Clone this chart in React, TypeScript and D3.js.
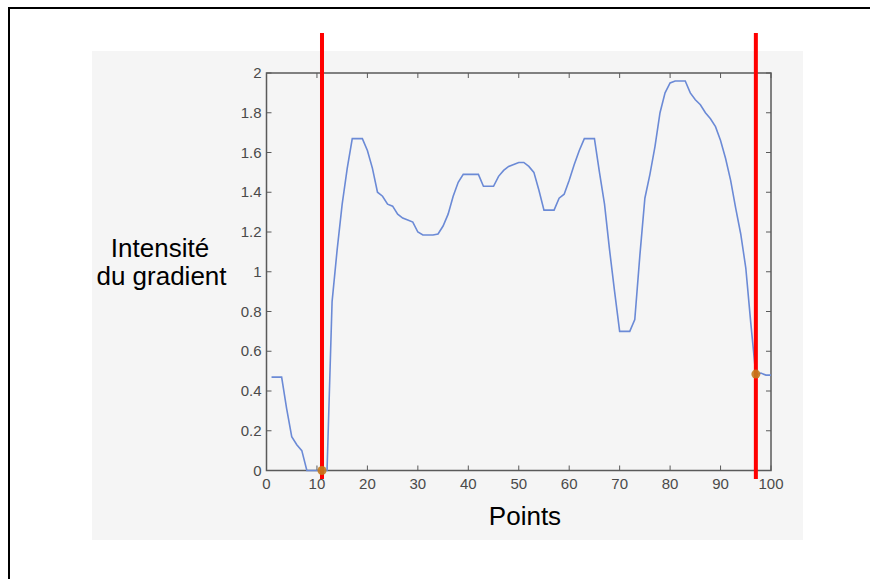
import * as d3 from 'd3';
import { useEffect, useRef } from 'react';

// intensité du gradient, points 1..100
const gradient = [
  0.47, 0.47, 0.47, 0.31, 0.17, 0.13, 0.10, 0.00, 0.00, 0.00,
  0.00, 0.00, 0.85, 1.11, 1.34, 1.52, 1.67, 1.67, 1.67, 1.61,
  1.52, 1.40, 1.38, 1.34, 1.33, 1.29, 1.27, 1.26, 1.25, 1.20,
  1.185, 1.185, 1.185, 1.19, 1.23, 1.29, 1.38, 1.45, 1.49, 1.49,
  1.49, 1.49, 1.43, 1.43, 1.43, 1.48, 1.51, 1.53, 1.54, 1.55,
  1.55, 1.53, 1.50, 1.41, 1.31, 1.31, 1.31, 1.37, 1.39, 1.46,
  1.54, 1.61, 1.67, 1.67, 1.67, 1.50, 1.34, 1.11, 0.90, 0.70,
  0.70, 0.70, 0.76, 1.08, 1.37, 1.49, 1.63, 1.80, 1.90, 1.95,
  1.96, 1.96, 1.96, 1.90, 1.865, 1.84, 1.80, 1.77, 1.73, 1.66,
  1.57, 1.46, 1.32, 1.19, 1.02, 0.74, 0.48, 0.49, 0.48, 0.48,
];

const xTicks = [0, 10, 20, 30, 40, 50, 60, 70, 80, 90, 100];
const yTicks = [0, 0.2, 0.4, 0.6, 0.8, 1, 1.2, 1.4, 1.6, 1.8, 2];
const yTickLabels = ['0', '0.2', '0.4', '0.6', '0.8', '1', '1.2', '1.4', '1.6', '1.8', '2'];

// selected points (red markers)
const markerX = [11, 97];
const markerY = [0, 0.485];

export default function App() {
  const ref = useRef<SVGSVGElement>(null);

  useEffect(() => {
    const svg = d3.select(ref.current);
    svg.selectAll('*').remove();

    const font = '"Liberation Sans", Arial, sans-serif';
    const x = d3.scaleLinear().domain([0, 100]).range([266.5, 771]);
    const y = d3.scaleLinear().domain([0, 2]).range([470.5, 73]);

    svg.append('rect').attr('width', 870).attr('height', 579).attr('fill', '#fff');

    // frame
    svg.append('path')
      .attr('d', 'M9,580 L9,8 L871,8')
      .attr('fill', 'none').attr('stroke', '#000').attr('stroke-width', 2);

    // figure background
    svg.append('rect')
      .attr('x', 92).attr('y', 51).attr('width', 711).attr('height', 489)
      .attr('fill', '#f5f5f5');

    const axisColor = '#5a5a5a';
    const [x0, x1] = x.range();
    const [y0, y1] = y.range();

    // box
    svg.append('rect')
      .attr('x', x0).attr('y', y1).attr('width', x1 - x0).attr('height', y0 - y1)
      .attr('fill', 'none').attr('stroke', axisColor).attr('stroke-width', 1.5);

    const tl = 5;
    const g = svg.append('g').attr('stroke', axisColor).attr('stroke-width', 1);
    xTicks.forEach(t => {
      g.append('line').attr('x1', x(t)).attr('x2', x(t)).attr('y1', y0).attr('y2', y0 - tl);
      g.append('line').attr('x1', x(t)).attr('x2', x(t)).attr('y1', y1).attr('y2', y1 + tl);
    });
    yTicks.forEach(t => {
      g.append('line').attr('x1', x0).attr('x2', x0 + tl).attr('y1', y(t)).attr('y2', y(t));
      g.append('line').attr('x1', x1).attr('x2', x1 - tl).attr('y1', y(t)).attr('y2', y(t));
    });

    svg.append('g').selectAll('text').data(xTicks).enter().append('text')
      .attr('x', d => x(d)).attr('y', 489)
      .attr('text-anchor', 'middle')
      .attr('font-family', font).attr('font-size', 15).attr('fill', '#4a4a4a')
      .text(d => String(d));

    svg.append('g').selectAll('text').data(yTicks).enter().append('text')
      .attr('x', x0 - 5).attr('y', d => y(d) + 5)
      .attr('text-anchor', 'end')
      .attr('font-family', font).attr('font-size', 15).attr('fill', '#4a4a4a')
      .text((d, i) => yTickLabels[i]);

    // curve
    const line = d3.line<number>()
      .x((d, i) => x(i + 1))
      .y(d => y(d));
    svg.append('path')
      .datum(gradient)
      .attr('d', line)
      .attr('fill', 'none')
      .attr('stroke', '#6b8ad6')
      .attr('stroke-width', 1.6);

    // red verticals
    markerX.forEach(m => {
      svg.append('line')
        .attr('x1', x(m)).attr('x2', x(m)).attr('y1', 33).attr('y2', 479)
        .attr('stroke', '#ff0000').attr('stroke-width', 4);
    });

    markerX.forEach((m, i) => {
      svg.append('circle')
        .attr('cx', x(m)).attr('cy', y(markerY[i])).attr('r', 4.5)
        .attr('fill', '#c47a1c').attr('opacity', 0.9);
    });

    // labels
    svg.append('text')
      .attr('x', 525).attr('y', 525).attr('text-anchor', 'middle')
      .attr('font-family', font).attr('font-size', 26).attr('fill', '#000')
      .text('Points');

    const yl = svg.append('text')
      .attr('text-anchor', 'middle')
      .attr('font-family', font).attr('font-size', 26).attr('fill', '#000');
    yl.append('tspan').attr('x', 160).attr('y', 256.5).text('Intensité');
    yl.append('tspan').attr('x', 161.5).attr('y', 285).text('du gradient');
  }, []);

  return (
    <svg ref={ref} width={870} height={579}
      style={{ position: 'absolute', left: 0, top: 0, display: 'block' }} />
  );
}
